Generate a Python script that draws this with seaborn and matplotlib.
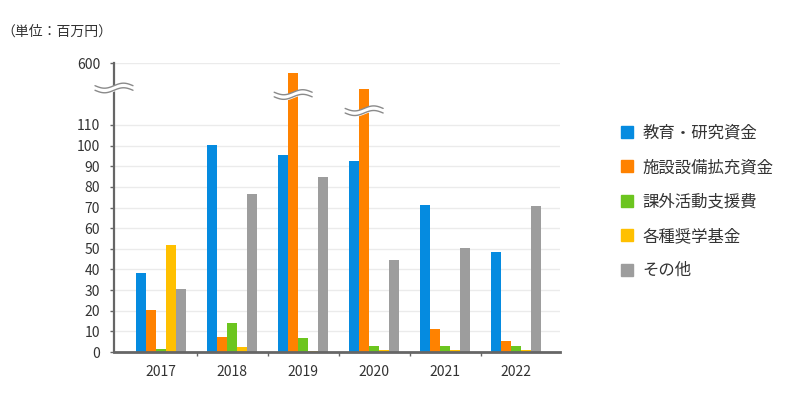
import numpy as np
import pandas as pd
import matplotlib.pyplot as plt
import seaborn as sns
from matplotlib.lines import Line2D
from matplotlib.transforms import ScaledTranslation

# values (unit: million yen)
years = ["2017", "2018", "2019", "2020", "2021", "2022"]
categories = ["教育・研究資金", "施設設備拡充資金", "課外活動支援費", "各種奨学基金", "その他"]
edu_research = [38.5, 100.2, 95.3, 92.4, 71.0, 48.4]
facilities = [20.4, 7.4, 522, 394, 11.3, 5.3]
club_support = [1.6, 14.2, 7.0, 3.1, 3.1, 3.1]
scholarship = [51.6, 2.6, 0.6, 1.1, 1.1, 1.1]
other = [30.7, 76.4, 84.6, 44.8, 50.6, 70.6]
y_ticks = [0, 10, 20, 30, 40, 50, 60, 70, 80, 90, 100, 110, 600]

colors = ["#058be0", "#ff8200", "#6cc51f", "#ffc000", "#9d9d9d"]

series = [edu_research, facilities, club_support, scholarship, other]
df = pd.DataFrame({
    "year": np.tile(years, len(categories)),
    "category": np.repeat(categories, len(years)),
    "value": np.concatenate(series),
})

# broken axis: linear up to 110, squashed above it
BREAK = 110
TOP = 600
SQUASH = 30 / (TOP - BREAK)


def fwd(v):
    v = np.asarray(v, dtype=float)
    return np.where(v <= BREAK, v, BREAK + (v - BREAK) * SQUASH)


def inv(u):
    u = np.asarray(u, dtype=float)
    return np.where(u <= BREAK, u, BREAK + (u - BREAK) / SQUASH)


sns.set_style("white")
plt.rcParams['font.family'] = ['Noto Sans CJK JP', 'DejaVu Sans']

fig = plt.figure(figsize=(7.86, 3.98), dpi=100)
ax = fig.add_axes([114 / 786, 1 - 352 / 398, (560 - 114) / 786, (352 - 63) / 398])

sns.barplot(data=df, x="year", y="value", hue="category", hue_order=categories,
            palette=colors, saturation=1, width=0.7, errorbar=None,
            linewidth=0, legend=False, ax=ax, zorder=2)

ax.set_yscale("function", functions=(fwd, inv))
ax.set_ylim(0, TOP)
ax.set_xlim(-0.665, 5.62)
ax.set_yticks(y_ticks)
ax.set_yticklabels([str(t) for t in y_ticks])
ax.set_xlabel("")
ax.set_ylabel("")

ax.yaxis.grid(True, color="#ebebeb", lw=1)
ax.xaxis.grid(False)
ax.set_axisbelow(True)

for s in ["top", "right"]:
    ax.spines[s].set_visible(False)
ax.spines["left"].set_color("#666666")
ax.spines["left"].set_linewidth(1.6)
ax.spines["bottom"].set_color("#666666")
ax.spines["bottom"].set_linewidth(2)

ax.tick_params(axis="y", length=3, width=1, color="#666666", pad=7,
               labelsize=10, labelcolor="#333333", left=True)
ax.tick_params(axis="x", which="major", length=0, pad=9,
               labelsize=10, labelcolor="#333333")
ax.set_xticks(np.arange(len(years) - 1) + 0.5, minor=True)
ax.tick_params(axis="x", which="minor", length=3, width=1, color="#666666", bottom=True)


def squiggle(x, y, anchor):
    xs = np.linspace(-0.19, 0.19, 80)
    base = 0.025 * np.sin(np.pi * xs / 0.19)
    up = base + 0.023
    lo = base - 0.023
    tr = fig.dpi_scale_trans + ScaledTranslation(x, y, anchor)
    ax.fill_between(xs, lo, up, color="white", transform=tr, zorder=6, clip_on=False)
    for yy in (up, lo):
        ax.plot(xs, yy, color="#8a8a8a", lw=1, transform=tr, zorder=7, clip_on=False)


# break mark on the axis
squiggle(0, float(inv(BREAK + 17.9)), ax.get_yaxis_transform())
# break marks on the bars that exceed the break
for p in list(ax.patches):
    h = p.get_height()
    if h > BREAK:
        cx = p.get_x() + p.get_width() / 2
        squiggle(cx, float(inv(fwd(h) - 10.5)), ax.transData)

# legend
handles = [Line2D([], [], marker="s", linestyle="", markersize=8.5,
                  markerfacecolor=c, markeredgecolor=c) for c in colors]
fig.legend(handles, categories, loc="upper left",
           bbox_to_anchor=(604 / 786, 1 - 110 / 398), frameon=False,
           fontsize=11.8, labelspacing=1.06, handletextpad=0.45,
           handlelength=1.0, labelcolor="#333333")

fig.text(1 / 786, 1 - 32 / 398, "（単位：百万円）", fontsize=10, color="#333333",
         va="center", ha="left")

fig.savefig("out.png", dpi=100)
